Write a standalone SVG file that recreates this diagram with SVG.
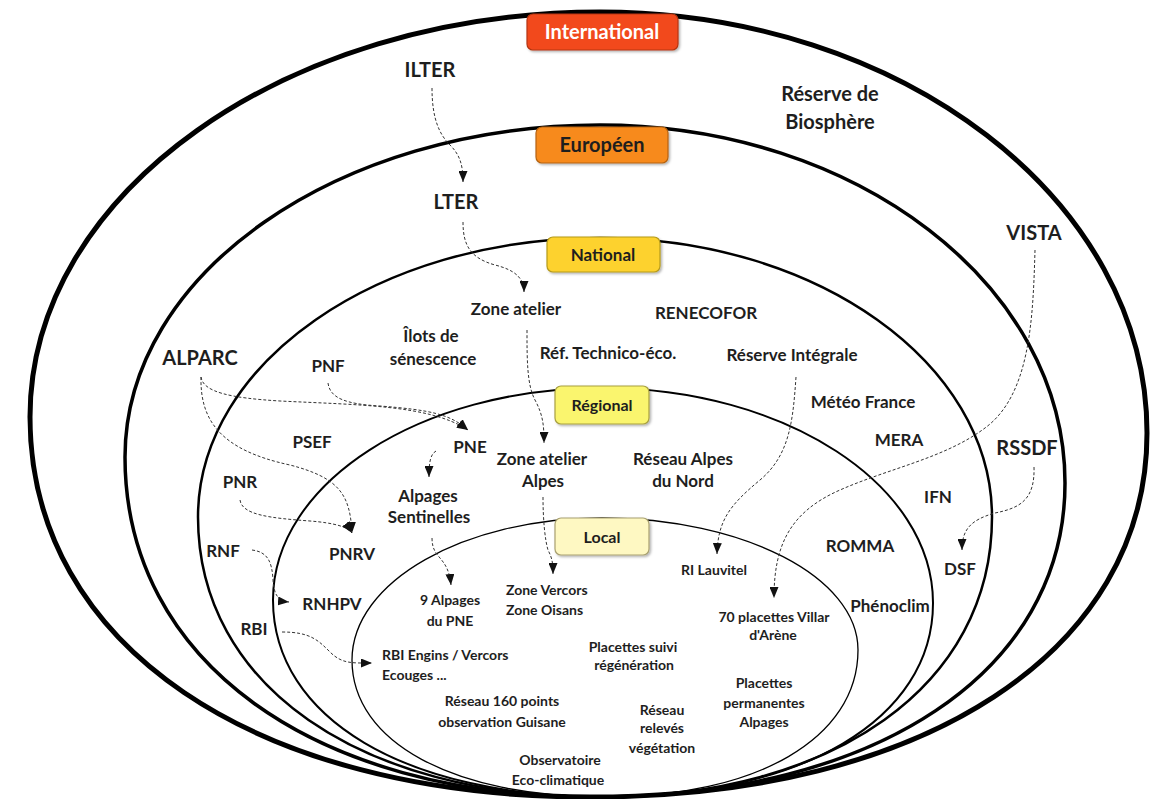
<svg xmlns="http://www.w3.org/2000/svg" width="1165" height="799" viewBox="0 0 1165 799">
<style>
.t{font-family:"Lato","Liberation Sans",sans-serif;font-weight:bold;fill:#1e1e1e;text-anchor:middle}
.b{font-size:20px}
.m{font-size:17px}
.s{font-size:14px}
.l{text-anchor:start}
.ring{fill:none;stroke:#000}
.c{fill:none;stroke:#333;stroke-width:1;stroke-dasharray:3 2;marker-end:url(#ah)}
.box{stroke-width:1.2}
</style>
<defs>
<marker id="ah" viewBox="0 0 11 9" refX="11" refY="4.5" markerWidth="11" markerHeight="9" markerUnits="userSpaceOnUse" orient="auto" preserveAspectRatio="none">
<path d="M0,0 L11,4.5 L0,9 z" fill="#111" stroke="none"/>
</marker>
<filter id="sh" x="-10%" y="-20%" width="130%" height="150%">
<feDropShadow dx="1.5" dy="1.5" stdDeviation="1" flood-color="#000" flood-opacity="0.3"/>
</filter>
</defs>
<rect width="1165" height="799" fill="#fff"/>
<g id="rings">
<path class="ring" stroke-width="5" d="M30,417 C30,193.3 285.2,12 600,12 C902.1,12 1147,200.5 1147,433 C1147,651.4 924.2,797 590,797 C254,797 30,645 30,417 Z"/>
<path class="ring" stroke-width="3.5" d="M125,457 C125,273.6 337.7,125 600,125 C856.8,125 1065,285.3 1065,483 C1065,671.4 877,797 595,797 C313,797 125,661 125,457 Z"/>
<path class="ring" stroke-width="2.5" d="M198,517 C198,362.9 378,238 600,238 C816.5,238 992,362.9 992,517 C992,685 835.2,797 600,797 C358.8,797 198,685 198,517 Z"/>
<path class="ring" stroke-width="2" d="M273,600 C273,482.9 420.3,388 602,388 C784.8,388 933,484.3 933,603 C933,719.4 801.8,797 605,797 C405.8,797 273,718.2 273,600 Z"/>
<path class="ring" stroke-width="1.3" stroke="#444" d="M352,660 C352,581.6 463.9,518 602,518 C743.4,518 858,577.1 858,650 C858,738.2 756.8,797 605,797 C453.2,797 352,742.2 352,660 Z"/>
</g>
<g id="connectors">
<path class="c" d="M432,88 C432,120 440,135 450,145 C460,155 463,165 463,182"/>
<path class="c" d="M463,222 C463,245 470,258 495,265 C515,270 524,278 524,292"/>
<path class="c" d="M527,330 C527,360 527,385 535,400 C543,415 544,425 544,443"/>
<path class="c" d="M543,497 C543,520 545,540 548,550 C552,558 553,562 553,574"/>
<path class="c" d="M796,377 C793,420 790,455 760,480 C730,505 718,520 717,554"/>
<path class="c" d="M1035,250 C1033,320 1030,395 985,428 C945,458 890,468 840,490 C790,512 774,545 774,598"/>
<path class="c" d="M1034,467 C1035,500 1020,508 995,513 C970,520 962,530 962,550"/>
<path class="c" d="M201,377 C203,392 230,398 280,401 C360,405 430,405 468,430"/>
<path class="c" d="M328,383 C330,398 345,404 380,406 C430,410 450,414 468,430"/>
<path class="c" d="M201,377 C200,420 220,450 290,465 C340,478 350,495 352,533"/>
<path class="c" d="M240,500 C242,515 270,518 310,521 C335,523 348,527 352,533"/>
<path class="c" d="M252,550 C268,552 272,562 273,580 C274,595 278,601 289,602"/>
<path class="c" d="M282,632 C310,632 318,640 330,652 C342,664 352,663 372,663"/>
<path class="c" d="M436,451 C431,454 429,460 429,477"/>
<path class="c" d="M432,538 C432,560 448,555 451,585"/>
</g>
<g id="international">
<rect class="box" x="527" y="14" width="151" height="36" rx="6" fill="#F24A1F" stroke="#B5340F" filter="url(#sh)"/>
<text class="t b" x="602" y="39" style="fill:#fff">International</text>
</g>
<g id="europeen">
<rect class="box" x="536" y="127" width="132" height="36" rx="6" fill="#F78A1E" stroke="#B5620F" filter="url(#sh)"/>
<text class="t b" x="602" y="152">Européen</text>
</g>
<g id="national">
<rect class="box" x="547" y="237" width="113" height="35" rx="6" fill="#FDD22E" stroke="#B59A1A" filter="url(#sh)"/>
<text class="t m" x="603" y="261">National</text>
</g>
<g id="regional">
<rect class="box" x="555" y="386" width="94" height="38" rx="6" fill="#FAF56E" stroke="#A8A040" filter="url(#sh)"/>
<text class="t" x="602" y="411" style="font-size:16px">Régional</text>
</g>
<g id="local">
<rect class="box" x="555" y="518" width="94" height="37" rx="6" fill="#FEF8C2" stroke="#A8A070" filter="url(#sh)"/>
<text class="t" x="602" y="543" style="font-size:16px">Local</text>
</g>
<g id="ilter"><text class="t b" x="430" y="77">ILTER</text></g>
<g id="reserve-biosphere"><text class="t b" x="830" y="101">Réserve de</text><text class="t b" x="830" y="129">Biosphère</text></g>
<g id="lter"><text class="t b" x="456" y="209">LTER</text></g>
<g id="vista"><text class="t b" x="1034" y="240">VISTA</text></g>
<g id="zone-atelier"><text class="t m" x="516" y="315">Zone atelier</text></g>
<g id="renecofor"><text class="t m" x="706" y="319">RENECOFOR</text></g>
<g id="ilots"><text class="t m" x="431" y="342">Îlots de</text><text class="t m" x="433" y="365">sénescence</text></g>
<g id="alparc"><text class="t b" x="200" y="365">ALPARC</text></g>
<g id="pnf"><text class="t m" x="328" y="372">PNF</text></g>
<g id="ref-technico"><text class="t m" x="608" y="359">Réf. Technico-éco.</text></g>
<g id="reserve-integrale"><text class="t m" x="792" y="361">Réserve Intégrale</text></g>
<g id="meteo-france"><text class="t m" x="863" y="408">Météo France</text></g>
<g id="mera"><text class="t m" x="899" y="446">MERA</text></g>
<g id="psef"><text class="t m" x="312" y="448">PSEF</text></g>
<g id="pne"><text class="t m" x="470" y="453">PNE</text></g>
<g id="rssdf"><text class="t b" x="1027" y="455">RSSDF</text></g>
<g id="zone-atelier-alpes"><text class="t m" x="542" y="465">Zone atelier</text><text class="t m" x="543" y="487">Alpes</text></g>
<g id="reseau-alpes-nord"><text class="t m" x="683" y="465">Réseau Alpes</text><text class="t m" x="683" y="487">du Nord</text></g>
<g id="pnr"><text class="t m" x="240" y="488">PNR</text></g>
<g id="ifn"><text class="t m" x="938" y="503">IFN</text></g>
<g id="alpages-sentinelles"><text class="t m" x="428" y="502">Alpages</text><text class="t m" x="429" y="523">Sentinelles</text></g>
<g id="romma"><text class="t m" x="860" y="552">ROMMA</text></g>
<g id="rnf"><text class="t m" x="223" y="557">RNF</text></g>
<g id="pnrv"><text class="t m" x="352" y="560">PNRV</text></g>
<g id="dsf"><text class="t m" x="960" y="575">DSF</text></g>
<g id="ri-lauvitel"><text class="t s" x="714" y="575">RI Lauvitel</text></g>
<g id="zone-vercors-oisans"><text class="t s l" x="506" y="595">Zone Vercors</text><text class="t s l" x="506" y="615">Zone Oisans</text></g>
<g id="alpages-pne"><text class="t s" x="450" y="605">9 Alpages</text><text class="t s" x="450" y="626">du PNE</text></g>
<g id="rnhpv"><text class="t m" x="332" y="610">RNHPV</text></g>
<g id="phenoclim"><text class="t m" x="890" y="612">Phénoclim</text></g>
<g id="placettes-villar"><text class="t s" x="774" y="622">70 placettes Villar</text><text class="t s" x="773" y="640">d'Arène</text></g>
<g id="rbi"><text class="t m" x="254" y="635">RBI</text></g>
<g id="placettes-suivi"><text class="t s" x="633" y="652">Placettes suivi</text><text class="t s" x="634" y="670">régénération</text></g>
<g id="rbi-engins"><text class="t s l" x="382" y="660">RBI Engins / Vercors</text><text class="t s l" x="382" y="680">Ecouges ...</text></g>
<g id="placettes-permanentes"><text class="t s" x="764" y="688">Placettes</text><text class="t s" x="764" y="708">permanentes</text><text class="t s" x="764" y="727">Alpages</text></g>
<g id="reseau-160"><text class="t s" x="502" y="706">Réseau 160 points</text><text class="t s" x="502" y="727">observation Guisane</text></g>
<g id="reseau-releves"><text class="t s" x="662" y="715">Réseau</text><text class="t s" x="662" y="733">relevés</text><text class="t s" x="662" y="753">végétation</text></g>
<g id="observatoire"><text class="t s" x="560" y="765">Observatoire</text><text class="t s" x="558" y="785">Eco-climatique</text></g>
</svg>
